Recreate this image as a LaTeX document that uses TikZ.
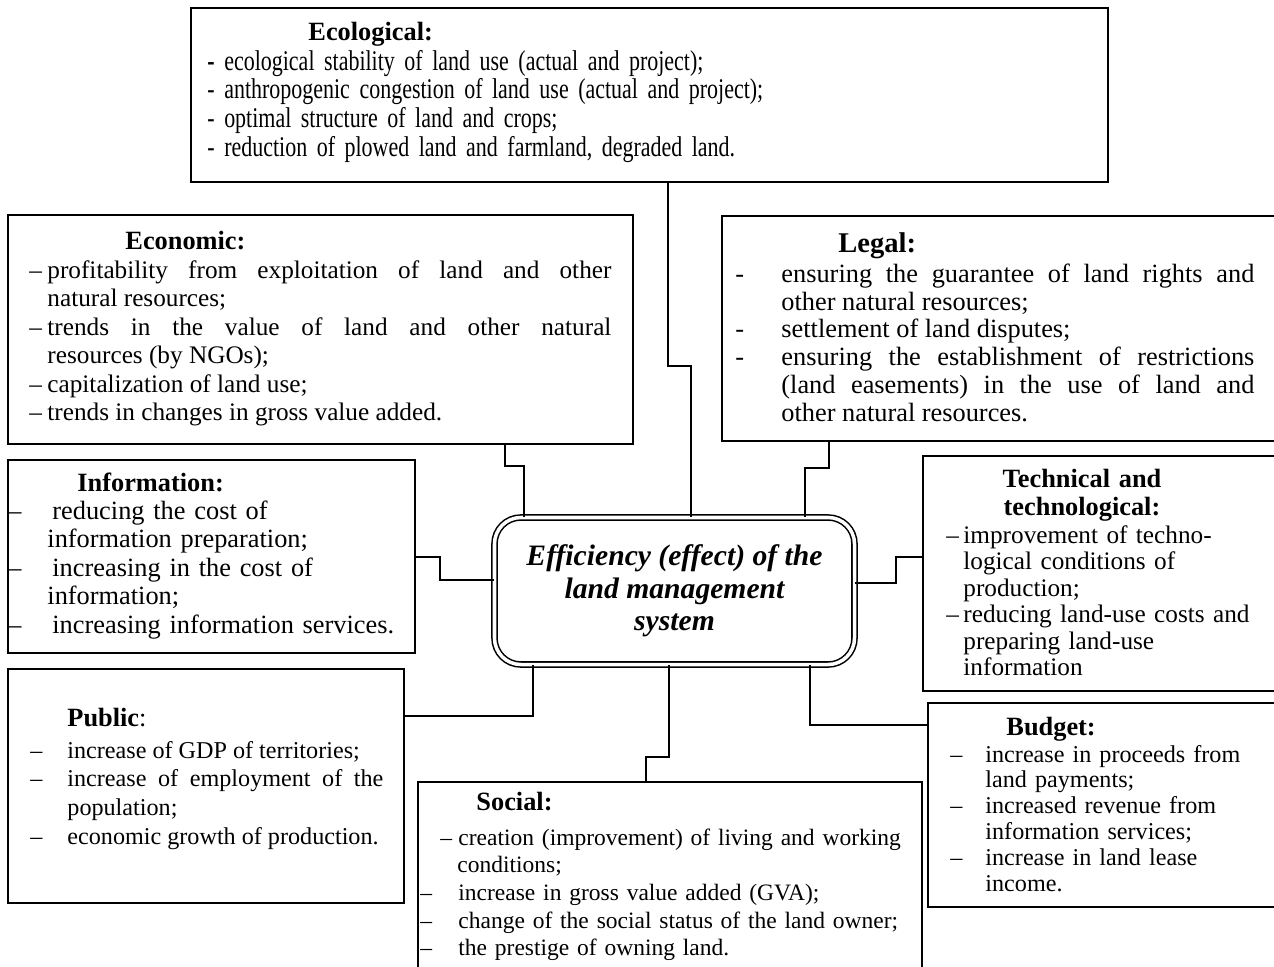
\documentclass[tikz,border=0pt]{standalone}
\usepackage{fontspec}
\setmainfont{Liberation Serif}
\newfontfamily\narrowserif{Liberation Serif}[FakeStretch=0.77]
\usetikzlibrary{fit}

\newlength\pxu \setlength\pxu{0.016cm}
\newlength\leadw \newlength\hangw
\newcommand\entry[2]{\hangindent=\hangw\hangafter=1\makebox[\leadw][l]{#1}#2\par}

\tikzset{
  catbox/.style={draw, line width=1pt, inner sep=0pt},
  hub/.style={draw, double, line width=0.7pt, double distance=1.6pt,
    rounded corners=12pt, minimum width=360\pxu, minimum height=147\pxu,
    align=center, inner sep=0pt,
    font=\fontsize{13.5}{14.8}\selectfont\bfseries\itshape},
  heading/.style={anchor=base west, inner sep=0pt,
    font=\fontsize{12}{13}\selectfont\bfseries},
  body/.style 2 args={anchor=base west, inner sep=0pt, align=left,
    font=\fontsize{#1}{#2}\selectfont},
  items/.style 2 args={execute at begin node={\setlength\leadw{#1}\setlength\hangw{#2}}},
  link/.style={line width=0.9pt},
}

\begin{document}
\begin{tikzpicture}[x=0.016cm, y=-0.016cm]
  \useasboundingbox (0,0) rectangle (1274,967);

  % frames
  \node[catbox, fit={(191,8) (1108,182)}] (eco) {};
  \node[catbox, fit={(8,215) (633,444)}] (econ) {};
  \node[catbox, fit={(722,216) (1300,441)}] (legal) {};
  \node[catbox, fit={(8,460) (415,653)}] (info) {};
  \node[catbox, fit={(923,456) (1300,691)}] (tech) {};
  \node[catbox, fit={(8,669) (404,903)}] (public) {};
  \node[catbox, fit={(928,703) (1300,907)}] (budget) {};
  \node[catbox, fit={(418,782) (922,1000)}] (social) {};

  \node[hub] (centre) at (674.5,591) {Efficiency (effect) of the\\ land management\\ system};

  % ecological
  \node[heading] (ecotitle) at (308,40) {Ecological:};
  \node[body={13}{13.1}, text width=880\pxu, execute at begin node=\narrowserif] (ecobody) at (207,70) {%
    {\bfseries -} ecological stability of land use (actual and project);\\
    - anthropogenic congestion of land use (actual and project);\\
    - optimal structure of land and crops;\\
    - reduction of plowed land and farmland, degraded land.};

  % economic
  \node[heading] (econtitle) at (125,249) {Economic:};
  \node[body={11.5}{13}, text width=582\pxu, align=justify, items={18\pxu}{18\pxu}] (econbody) at (29,278) {%
    \entry{–}{profitability from exploitation of land and other\linebreak natural resources;}
    \entry{–}{trends in the value of land and other natural\linebreak resources (by NGOs);}
    \entry{–}{capitalization of land use;}
    \entry{–}{trends in changes in gross value added.}};

  % legal
  \node[heading, font=\fontsize{13}{14}\selectfont\bfseries] (legaltitle) at (838,252) {Legal:};
  \node[body={12}{12.75}, text width=519\pxu, align=justify, items={46\pxu}{46\pxu}] (legalbody) at (735,282) {%
    \entry{-}{ensuring the guarantee of land rights and\linebreak other natural resources;}
    \entry{-}{settlement of land disputes;}
    \entry{-}{ensuring the establishment of restrictions\linebreak (land easements) in the use of land and\linebreak other natural resources.}};

  % information
  \node[heading] (infotitle) at (77,491) {Information:};
  \node[body={12}{13}, text width=400\pxu, items={44\pxu}{39\pxu}] (infobody) at (8,519) {%
    \entry{–}{reducing the cost of\newline information preparation;}
    \entry{–}{increasing in the cost of\newline information;}
    \entry{–}{increasing information services.}};

  % technical
  \node[heading, anchor=base, align=center, text width=240\pxu] (techtitle) at (1082,487) {Technical and\\ technological:};
  \node[body={11.5}{12.1}, text width=320\pxu, items={17\pxu}{17\pxu}] (techbody) at (946,543) {%
    \entry{–}{improvement of techno-\newline logical conditions of\newline production;}
    \entry{–}{reducing land-use costs and\newline preparing land-use\newline information}};

  % public
  \node[heading] (publictitle) at (67,726) {Public{\mdseries:}};
  \node[body={11}{13.2}, text width=353\pxu, align=justify, items={37\pxu}{37\pxu}] (publicbody) at (30,758) {%
    \entry{–}{increase of GDP of territories;}
    \entry{–}{increase of employment of the\linebreak population;}
    \entry{–}{economic growth of production.}};

  % social
  \node[heading] (socialtitle) at (476,810) {Social:};
  \node[body={10.7}{12.6}, text width=500\pxu, items={38\pxu}{37\pxu}] (socialbody) at (420,845) {%
    \entry{\hspace*{20\pxu}–}{creation (improvement) of living and working\newline conditions;}
    \entry{–}{increase in gross value added (GVA);}
    \entry{–}{change of the social status of the land owner;}
    \entry{–}{the prestige of owning land.}};

  % budget
  \node[heading] (budgettitle) at (1006,735) {Budget:};
  \node[body={11}{11.75}, text width=320\pxu, items={35\pxu}{35\pxu}] (budgetbody) at (950,762) {%
    \entry{–}{increase in proceeds from\newline land payments;}
    \entry{–}{increased revenue from\newline information services;}
    \entry{–}{increase in land lease\newline income.}};

  % connectors
  \coordinate (ecoJ) at (668,366);
  \draw[link] (eco.south -| ecoJ) -- (ecoJ) -- ++(23,0) coordinate (ecoK) -- (centre.north -| ecoK);
  \coordinate (econJ) at (505,466);
  \draw[link] (econ.south -| econJ) -- (econJ) -- ++(19,0) coordinate (econK) -- (centre.north -| econK);
  \coordinate (legalJ) at (829,468);
  \draw[link] (legal.south -| legalJ) -- (legalJ) -- ++(-24,0) coordinate (legalK) -- (centre.north -| legalK);
  \coordinate (infoJ) at (440,557);
  \draw[link] (info.east |- infoJ) -- (infoJ) -- ++(0,23) coordinate (infoK) -- (centre.west |- infoK);
  \coordinate (techJ) at (896,557);
  \draw[link] (tech.west |- techJ) -- (techJ) -- ++(0,26) coordinate (techK) -- (centre.east |- techK);
  \coordinate (publicJ) at (533,716);
  \draw[link] (public.east |- publicJ) -- (publicJ) -- (centre.south -| publicJ);
  \coordinate (socialJ) at (646,757);
  \draw[link] (social.north -| socialJ) -- (socialJ) -- ++(23,0) coordinate (socialK) -- (centre.south -| socialK);
  \coordinate (budgetJ) at (810,725);
  \draw[link] (budget.west |- budgetJ) -- (budgetJ) -- (centre.south -| budgetJ);
\end{tikzpicture}
\end{document}
